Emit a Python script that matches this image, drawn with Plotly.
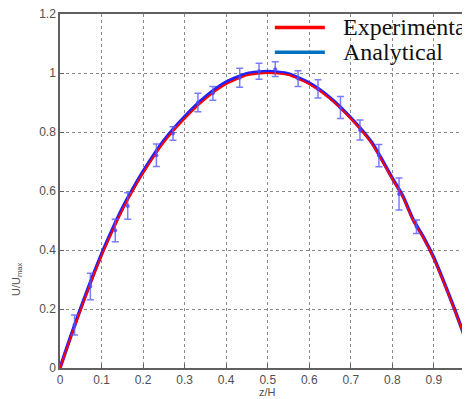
import plotly.graph_objects as go

# Experimental curve (red)
z_exp = [0, 0.025, 0.05, 0.075, 0.1, 0.125, 0.15, 0.175, 0.2, 0.25, 0.3, 0.35, 0.4, 0.45, 0.5,
         0.55, 0.6, 0.65, 0.7, 0.75, 0.8, 0.825, 0.85, 0.875, 0.9, 0.925, 0.95, 0.975, 1.0]
u_exp = [0, 0.10, 0.198, 0.292, 0.38, 0.46, 0.535, 0.60, 0.66, 0.765, 0.845, 0.912, 0.962, 0.992, 1.0,
         0.993, 0.962, 0.913, 0.845, 0.762, 0.64, 0.58, 0.50, 0.44, 0.37, 0.285, 0.195, 0.10, 0.0]
# Analytical curve (blue)
z_ana = [0, 0.025, 0.05, 0.075, 0.1, 0.125, 0.15, 0.175, 0.2, 0.25, 0.3, 0.35, 0.4, 0.45, 0.5,
         0.55, 0.6, 0.65, 0.7, 0.75, 0.8, 0.825, 0.85, 0.875, 0.9, 0.925, 0.95, 0.975, 1.0]
u_ana = [0, 0.104, 0.203, 0.297, 0.386, 0.466, 0.541, 0.606, 0.666, 0.771, 0.852, 0.919, 0.969, 0.998, 1.005,
         0.997, 0.966, 0.916, 0.848, 0.765, 0.643, 0.583, 0.503, 0.443, 0.373, 0.288, 0.198, 0.102, 0.0]
# Measured points with error bars
z_pts = [0.035, 0.073, 0.133, 0.163, 0.232, 0.272, 0.332, 0.368, 0.4325,
         0.479, 0.518, 0.573, 0.621, 0.675, 0.722, 0.7675, 0.816, 0.858]
u_pts = [0.146, 0.276, 0.466, 0.549, 0.721, 0.795, 0.900, 0.931, 0.984,
         1.006, 1.013, 0.981, 0.946, 0.883, 0.807, 0.720, 0.590, 0.479]
u_err = [0.034, 0.045, 0.038, 0.045, 0.038, 0.023, 0.031, 0.023, 0.032,
         0.027, 0.025, 0.027, 0.031, 0.037, 0.034, 0.038, 0.054, 0.023]

x_ticks = [0, 0.1, 0.2, 0.3, 0.4, 0.5, 0.6, 0.7, 0.8, 0.9]
x_labels = ["0", "0.1", "0.2", "0.3", "0.4", "0.5", "0.6", "0.7", "0.8", "0.9"]
y_ticks = [0, 0.2, 0.4, 0.6, 0.8, 1.0, 1.2]
y_labels = ["0", "0.2", "0.4", "0.6", "0.8", "1", "1.2"]

legend_names = ["Experimental", "Analytical"]

fig = go.Figure()
fig.add_trace(go.Scatter(x=z_ana, y=u_ana, mode="lines", line_shape="spline",
                         line=dict(color="#2222ff", width=3.5, smoothing=0.6), showlegend=False))
fig.add_trace(go.Scatter(x=z_exp, y=u_exp, mode="lines", line_shape="spline",
                         line=dict(color="#ff0000", width=2, smoothing=0.6), showlegend=False))
fig.add_trace(go.Scatter(x=z_pts, y=u_pts, mode="markers",
                         marker=dict(color="rgba(70,70,255,0.8)", size=4),
                         error_y=dict(type="data", array=u_err, color="rgba(90,90,255,0.8)",
                                      thickness=1.5, width=3.5),
                         showlegend=False))

tickfont = dict(family="Liberation Sans, Arial", size=12, color="#505050")
fig.update_xaxes(range=[0, 0.9868], tickvals=x_ticks, ticktext=x_labels,
                 showgrid=True, gridcolor="#8a8a8a", griddash="dot", gridwidth=1,
                 showline=True, linecolor="#606060", linewidth=1.5, mirror=True,
                 ticks="inside", ticklen=4, tickcolor="#606060",
                 zeroline=False, tickfont=tickfont, automargin=False,
                 ticklabeloverflow="allow")
fig.update_yaxes(range=[0, 1.2], tickvals=y_ticks, ticktext=y_labels,
                 showgrid=True, gridcolor="#8a8a8a", griddash="dot", gridwidth=1,
                 showline=True, linecolor="#606060", linewidth=1.5, mirror=False,
                 ticks="inside", ticklen=4, tickcolor="#606060",
                 zeroline=False, tickfont=tickfont, automargin=False,
                 ticklabeloverflow="allow")

axis_title_font = dict(family="Liberation Sans, Arial", size=11, color="#505050")
# axis titles
fig.add_annotation(text="U/U<sub>max</sub>", xref="paper", yref="paper",
                   x=-0.106, y=0.25, textangle=-90, showarrow=False,
                   xanchor="center", yanchor="middle", font=axis_title_font)
fig.add_annotation(text="z/H", xref="paper", yref="paper",
                   x=0.505, y=-0.068, showarrow=False,
                   xanchor="center", yanchor="middle", font=axis_title_font)

# legend replica
leg_colors = ["#ff0000", "#0070c0"]
leg_y = [0.962, 0.892]
for name, col, yy in zip(legend_names, leg_colors, leg_y):
    fig.add_shape(type="line", xref="paper", yref="paper", x0=0.524, x1=0.646,
                  y0=yy, y1=yy, line=dict(color=col, width=3.5))
    fig.add_annotation(text=name, xref="paper", yref="paper", x=0.685, y=yy,
                       xanchor="left", yanchor="middle", showarrow=False,
                       font=dict(family="Liberation Serif, Times New Roman", size=24, color="#111111"))

# page body has an 8px margin, so the figure is sized/offset to compensate
fig.update_layout(width=462, height=391, autosize=False,
                  margin=dict(l=52, r=0, t=6, b=31),
                  paper_bgcolor="white", plot_bgcolor="white")
fig.write_html("out.html")
